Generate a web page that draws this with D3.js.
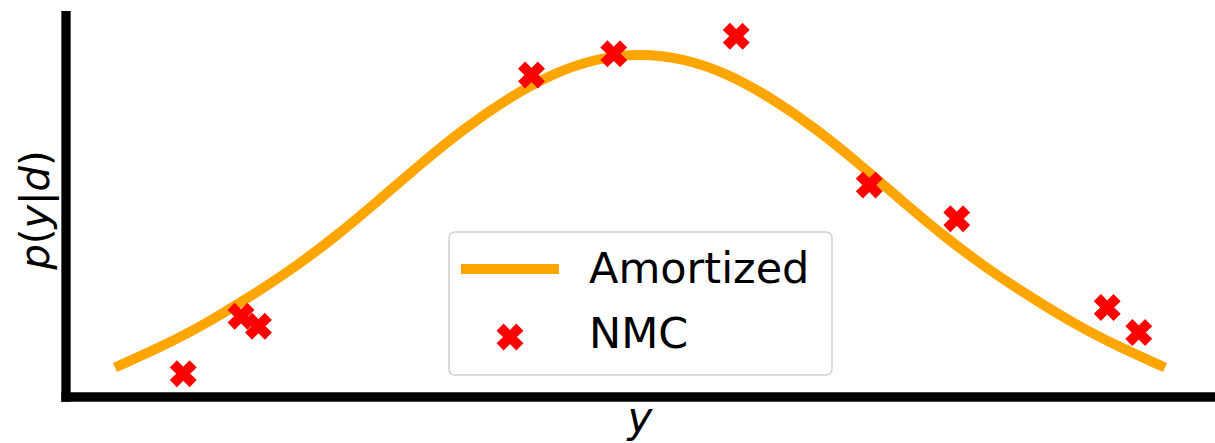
<!DOCTYPE html>
<html>
<head>
<meta charset="utf-8">
<script src="https://cdn.jsdelivr.net/npm/d3@7"></script>
<style>
  html, body { margin: 0; padding: 0; background: #fff; }
  svg { display: block; }
  text { font-family: "DejaVu Sans", sans-serif; fill: #000; }
</style>
</head>
<body>
<svg id="chart" width="1215" height="443"></svg>
<script>
// Amortized posterior density p(y|d), sampled along y
const curveX = [-3, -2.75, -2.5, -2.25, -2, -1.75, -1.5, -1.25, -1, -0.75, -0.5, -0.25,
                0, 0.25, 0.5, 0.75, 1, 1.25, 1.5, 1.75, 2, 2.25, 2.5, 2.75, 3];
const curveY = [0.030, 0.046, 0.064, 0.085, 0.108, 0.134, 0.163, 0.193, 0.221, 0.245, 0.264, 0.276,
                0.280, 0.276, 0.264, 0.245, 0.221, 0.193, 0.163, 0.134, 0.108, 0.085, 0.064, 0.046, 0.030];

// Nested Monte Carlo estimates
const nmcX = [-2.61, -2.28, -2.18, -0.62, -0.15, 0.55, 1.31, 1.81, 2.67, 2.85];
const nmcY = [0.025, 0.071, 0.063, 0.264, 0.281, 0.295, 0.176, 0.149, 0.078, 0.058];

const legendLabels = ["Amortized", "NMC"];
const xLabel = "y";

const orange = "#FFA500";
const red = "#FF0000";

const svg = d3.select("#chart");

const x = d3.scaleLinear().domain([-3.3, 3.3]).range([62.5, 1217.5]);
const y = d3.scaleLinear().domain([0, 0.3]).range([405, 30]);

const frame = { left: 66, top: 11, bottom: 397, right: 1215 };

// filled "X" marker: a plus polygon rotated by 45 degrees
const S = 27;
const plusPts = [[-1,-3],[1,-3],[1,-1],[3,-1],[3,1],[1,1],[1,3],[-1,3],[-1,1],[-3,1],[-3,-1],[-1,-1]];
const xMarker = "M" + plusPts.map(p => (p[0] * S / 6) + "," + (p[1] * S / 6)).join("L") + "Z";

// density curve
const line = d3.line()
  .x((d, i) => x(curveX[i]))
  .y((d, i) => y(curveY[i]))
  .curve(d3.curveNatural);

svg.append("path")
  .attr("d", line(curveX))
  .attr("fill", "none")
  .attr("stroke", orange)
  .attr("stroke-width", 10)
  .attr("stroke-linecap", "butt");

// NMC points
svg.append("g").selectAll("path")
  .data(nmcX.map((v, i) => [v, nmcY[i]]))
  .join("path")
  .attr("d", xMarker)
  .attr("transform", d => `translate(${x(d[0])},${y(d[1])}) rotate(45)`)
  .attr("fill", red)
  .attr("stroke", red)
  .attr("stroke-width", 1);

// spines (left and bottom only)
svg.append("line")
  .attr("x1", frame.left).attr("x2", frame.left)
  .attr("y1", frame.top).attr("y2", frame.bottom + 4.65)
  .attr("stroke", "#000").attr("stroke-width", 9.3);
svg.append("line")
  .attr("x1", frame.left - 4.65).attr("x2", frame.right)
  .attr("y1", frame.bottom).attr("y2", frame.bottom)
  .attr("stroke", "#000").attr("stroke-width", 9.3);

// axis labels
svg.append("text")
  .attr("x", 640).attr("y", 432)
  .attr("text-anchor", "middle")
  .attr("font-size", 42)
  .attr("font-style", "italic")
  .text(xLabel);

const yl = svg.append("text")
  .attr("transform", "translate(49,210) rotate(-90)")
  .attr("text-anchor", "middle")
  .attr("font-size", 40);
yl.append("tspan").attr("font-style", "italic").text("p");
yl.append("tspan").text("(");
yl.append("tspan").attr("font-style", "italic").text("y");
yl.append("tspan").text("|");
yl.append("tspan").attr("font-style", "italic").text("d");
yl.append("tspan").text(")");

// legend
const lg = svg.append("g");
lg.append("rect")
  .attr("x", 449).attr("y", 232)
  .attr("width", 383).attr("height", 143)
  .attr("rx", 6).attr("ry", 6)
  .attr("fill", "#fff").attr("fill-opacity", 0.8)
  .attr("stroke", "#d0d0d0").attr("stroke-width", 1.5);
lg.append("line")
  .attr("x1", 461).attr("x2", 559)
  .attr("y1", 269).attr("y2", 269)
  .attr("stroke", orange).attr("stroke-width", 10);
lg.append("path")
  .attr("d", xMarker)
  .attr("transform", "translate(510,337) rotate(45)")
  .attr("fill", red).attr("stroke", red).attr("stroke-width", 1);
lg.append("text").attr("x", 589).attr("y", 283).attr("font-size", 43).text(legendLabels[0]);
lg.append("text").attr("x", 589).attr("y", 348).attr("font-size", 43).text(legendLabels[1]);
</script>
</body>
</html>
